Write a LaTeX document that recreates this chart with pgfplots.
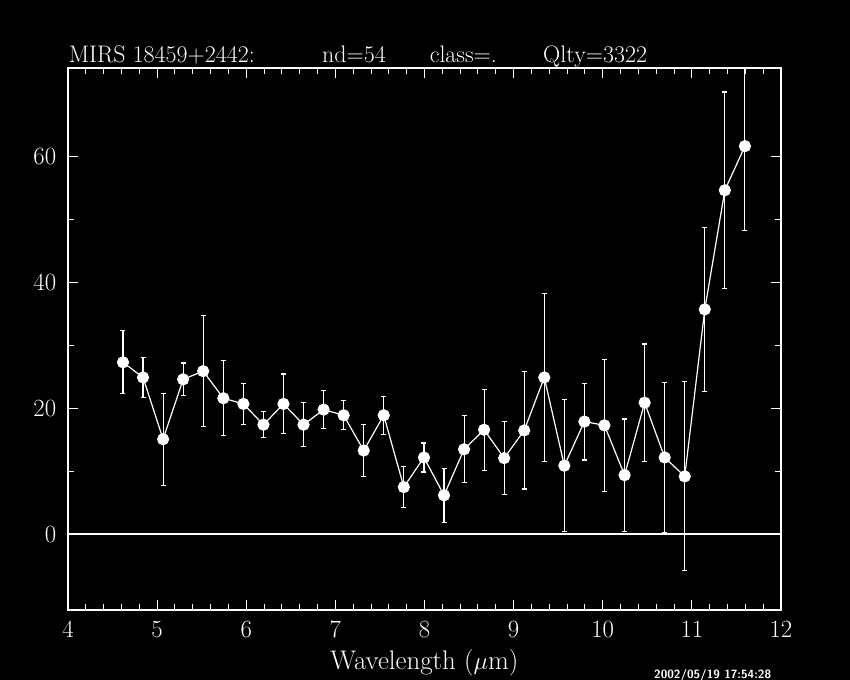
\documentclass[border=0pt]{standalone}
\usepackage{pgfplots}
\pgfplotsset{compat=1.18}
\begin{document}
\begin{tikzpicture}
\fill[black] (0bp,0bp) rectangle (850bp,680bp);
\useasboundingbox (0bp,0bp) rectangle (850bp,680bp);

% title
\begin{scope}[every node/.style={white, inner sep=0pt, anchor=base west, font=\fontsize{24}{28}\selectfont}]
\node at (68.7bp,617.6bp) {MIRS 18459+2442:};
\node at (322bp,617.6bp) {nd=54};
\node at (429.6bp,617.6bp) {class=.};
\node at (543bp,617.6bp) {Qlty=3322};
\end{scope}
\node[white, inner sep=0pt, anchor=base west, font=\fontsize{12}{14}\selectfont\sffamily\bfseries] at (654bp,2bp) {2002/05/19 17:54:28};

\begin{axis}[
    at={(68bp,70bp)}, anchor=south west,
    scale only axis, width=713bp, height=542bp,
    xmin=4, xmax=12, ymin=-12, ymax=74,
    xtick={4,...,12}, ytick={0,20,40,60},
    minor x tick num=4, minor y tick num=1,
    tick pos=both, tick align=inside,
    major tick length=10bp, minor tick length=5.5bp,
    axis line style={white, line width=1.3bp},
    every tick/.style={white, line width=1bp},
    ticklabel style={white, font=\fontsize{23}{27}\selectfont},
    xticklabel style={anchor=base, yshift=-28bp},
    yticklabel style={inner sep=0pt, anchor=east, xshift=-11.6bp},
    xlabel={Wavelength ($\mu$m)},
    xlabel style={white, font=\fontsize{27}{31}\selectfont, at={(axis description cs:0.5,-0.110)}, anchor=base},
]
% zero line
\addplot[white, line width=2bp, forget plot] coordinates {(4,0) (12,0)};

\addplot[white, line width=1.2bp, mark=*, mark size=5.5bp,
    mark options={fill=white, draw=white},
    error bars/.cd, y dir=both, y explicit,
    error bar style={white, line width=1.1bp},
    error mark options={white, rotate=90, mark size=2.5bp, line width=1.1bp}]
coordinates {
(4.617,27.3) +- (0,5.0)
(4.842,24.9) +- (0,3.15)
(5.067,15.1) +- (0,7.3)
(5.292,24.6) +- (0,2.6)
(5.517,25.9) +- (0,8.8)
(5.743,21.6) +- (0,5.95)
(5.968,20.7) +- (0,3.25)
(6.193,17.4) +- (0,2.05)
(6.418,20.7) +- (0,4.75)
(6.643,17.4) +- (0,3.5)
(6.868,19.8) +- (0,3.0)
(7.093,18.9) +- (0,2.3)
(7.318,13.3) +- (0,4.1)
(7.543,18.9) +- (0,3.0)
(7.768,7.5) +- (0,3.2)
(7.994,12.2) +- (0,2.3)
(8.219,6.2) +- (0,4.3)
(8.444,13.5) +- (0,5.3)
(8.669,16.6) +- (0,6.4)
(8.894,12.1) +- (0,5.8)
(9.119,16.5) +- (0,9.3)
(9.344,24.9) +- (0,13.3)
(9.569,10.9) +- (0,10.5)
(9.794,17.9) +- (0,6.1)
(10.019,17.3) +- (0,10.5)
(10.245,9.4) +- (0,8.9)
(10.470,20.9) +- (0,9.3)
(10.695,12.2) +- (0,11.9)
(10.920,9.2) +- (0,15.0)
(11.145,35.7) +- (0,13.0)
(11.370,54.6) +- (0,15.6)
(11.595,61.6) +- (0,13.4)
};
\end{axis}
\end{tikzpicture}
\end{document}
